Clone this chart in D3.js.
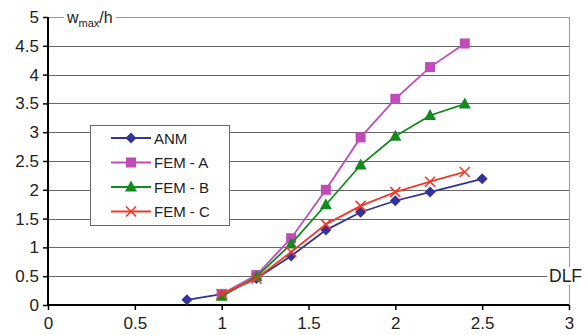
<!DOCTYPE html>
<html>
<head>
<style>
body { margin: 0; background: #fff; }
text { font-family: 'Liberation Sans', Arial, sans-serif; }
</style>
</head>
<body>
<svg width="587" height="335"></svg>
<script src="https://cdn.jsdelivr.net/npm/d3@7/dist/d3.min.js"></script>
<script>

// data
var anm  = [[0.8, 0.09], [1.0, 0.19], [1.2, 0.46], [1.4, 0.85], [1.6, 1.30], [1.8, 1.61], [2.0, 1.81], [2.2, 1.96], [2.5, 2.19]];
var femA = [[1.0, 0.19], [1.2, 0.52], [1.4, 1.16], [1.6, 2.00], [1.8, 2.91], [2.0, 3.58], [2.2, 4.13], [2.4, 4.54]];
var femB = [[1.0, 0.15], [1.2, 0.49], [1.4, 1.06], [1.6, 1.74], [1.8, 2.43], [2.0, 2.93], [2.2, 3.29], [2.4, 3.49]];
var femC = [[1.0, 0.19], [1.2, 0.46], [1.4, 0.92], [1.6, 1.40], [1.8, 1.72], [2.0, 1.96], [2.2, 2.14], [2.4, 2.31]];
var seriesNames = ["ANM", "FEM - A", "FEM - B", "FEM - C"];
var xTicks = [0, 0.5, 1, 1.5, 2, 2.5, 3];
var yTicks = [0, 0.5, 1, 1.5, 2, 2.5, 3, 3.5, 4, 4.5, 5];

var series = [
  { name: seriesNames[0], values: anm,  color: "#333399", marker: "diamond" },
  { name: seriesNames[1], values: femA, color: "#c04cb8", marker: "square" },
  { name: seriesNames[2], values: femB, color: "#138a1e", marker: "triangle" },
  { name: seriesNames[3], values: femC, color: "#ee3a2a", marker: "cross" }
];

var svg = d3.select("svg");

var x = d3.scaleLinear().domain([0, 3]).range([48, 569]),
    y = d3.scaleLinear().domain([0, 5]).range([305, 17]);

// grid
svg.append("g").selectAll("line")
    .data(yTicks.filter(function(d) { return d > 0; }))
  .enter().append("line")
    .attr("x1", x(0)).attr("x2", x(3))
    .attr("y1", function(d) { return Math.round(y(d)) + 0.5; })
    .attr("y2", function(d) { return Math.round(y(d)) + 0.5; })
    .attr("stroke", function(d) { return d === 5 ? "#999" : "#666"; })
    .attr("stroke-width", 1);

// right border
svg.append("line")
    .attr("x1", Math.round(x(3)) + 0.5).attr("x2", Math.round(x(3)) + 0.5)
    .attr("y1", y(5)).attr("y2", y(0))
    .attr("stroke", "#999");

// axes
var yAxis = svg.append("g")
    .attr("transform", "translate(" + x(0) + ",0)")
    .call(d3.axisLeft(y).tickValues(yTicks).tickSize(5).tickPadding(4)
      .tickFormat(function(d) { return d3.format("")(d); }));
var xAxis = svg.append("g")
    .attr("transform", "translate(0," + y(0) + ")")
    .call(d3.axisBottom(x).tickValues(xTicks).tickSize(5).tickPadding(5)
      .tickFormat(function(d) { return d3.format("")(d); }));

[yAxis, xAxis].forEach(function(a) {
  a.select(".domain").attr("stroke", "#000").attr("stroke-width", 2);
  a.selectAll(".tick line").attr("stroke", "#000").attr("stroke-width", 1.5);
  a.selectAll(".tick text").attr("fill", "#222").style("font-size", "17px")
    .style("font-family", "'Liberation Sans', Arial, sans-serif");
});
xAxis.select(".domain").attr("d", "M" + x(0) + ",0H" + x(3));
yAxis.select(".domain").attr("d", "M0," + y(0) + "V" + y(5));
xAxis.selectAll(".tick text").attr("dy", "0.8em");

// axis titles with white backing
var yTitle = svg.append("g");
yTitle.append("rect").attr("x", 64).attr("y", 10).attr("width", 52).attr("height", 16).attr("fill", "#fff");
var yt = yTitle.append("text").attr("x", 67).attr("y", 23).attr("fill", "#222").style("font-size", "16px");
yt.append("tspan").text("w");
yt.append("tspan").attr("dy", 4).style("font-size", "11px").text("max");
yt.append("tspan").attr("dy", -4).text("/h");

svg.append("rect").attr("x", 547).attr("y", 267).attr("width", 40).attr("height", 18).attr("fill", "#fff");
svg.append("text").attr("x", 549).attr("y", y(0.5) + 6).attr("fill", "#222")
    .style("font-size", "17.5px").text("DLF");

// markers
function drawMarker(g, type, color) {
  if (type === "diamond") {
    g.append("path").attr("d", "M0,-5.5L5.5,0L0,5.5L-5.5,0Z").attr("fill", color);
  } else if (type === "square") {
    g.append("rect").attr("x", -5).attr("y", -5).attr("width", 10).attr("height", 10).attr("fill", color);
  } else if (type === "triangle") {
    g.append("path").attr("d", "M0,-6.5L6,4.5L-6,4.5Z").attr("fill", color);
  } else {
    g.append("path").attr("d", "M-5,-5L5,5M5,-5L-5,5").attr("stroke", color).attr("stroke-width", 1.6).attr("fill", "none");
  }
}

var line = d3.line()
    .x(function(d) { return x(d[0]); })
    .y(function(d) { return y(d[1]); });

series.forEach(function(s) {
  var g = svg.append("g");
  g.append("path").datum(s.values)
      .attr("d", line)
      .attr("fill", "none")
      .attr("stroke", s.color)
      .attr("stroke-width", 1.8);
  g.selectAll("g.pt").data(s.values)
    .enter().append("g")
      .attr("class", "pt")
      .attr("transform", function(d) { return "translate(" + x(d[0]) + "," + y(d[1]) + ")"; })
      .each(function() { drawMarker(d3.select(this), s.marker, s.color); });
});

// legend
var legend = svg.append("g");
legend.append("rect")
    .attr("x", 90.5).attr("y", 125.5).attr("width", 139).attr("height", 100)
    .attr("fill", "#fff").attr("stroke", "#666");
series.forEach(function(s, i) {
  var ly = 138 + i * 24.5;
  var lg = legend.append("g");
  lg.append("line").attr("x1", 111).attr("x2", 151).attr("y1", ly).attr("y2", ly)
      .attr("stroke", s.color).attr("stroke-width", 1.8);
  drawMarker(lg.append("g").attr("transform", "translate(131," + ly + ")"), s.marker, s.color);
  lg.append("text").attr("x", 154).attr("y", ly + 5.5).attr("fill", "#222")
      .style("font-size", "15px").text(s.name);
});

</script>
</body>
</html>
